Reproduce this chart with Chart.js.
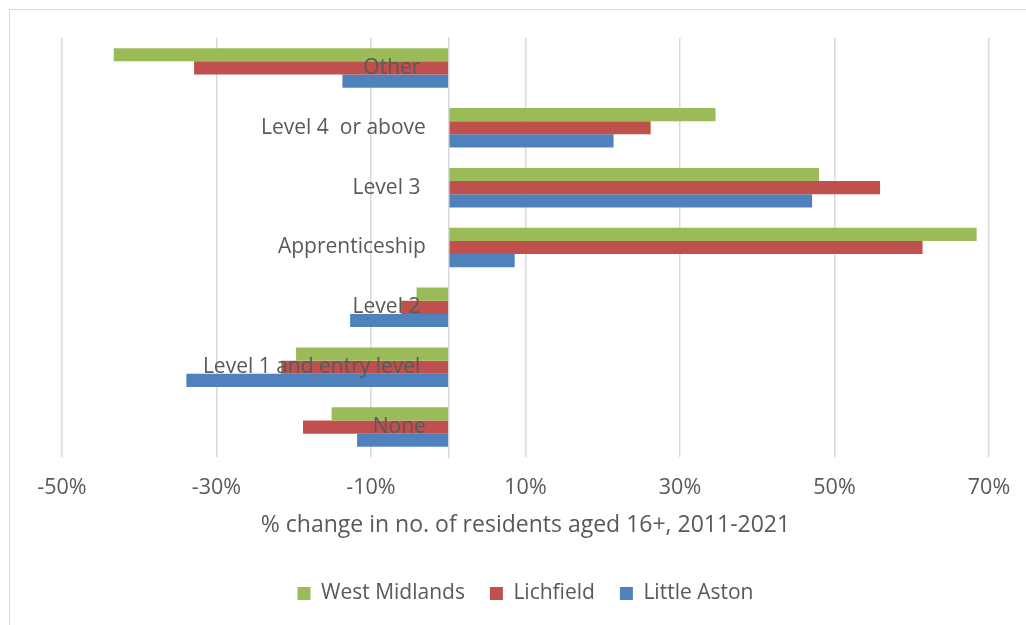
<!DOCTYPE html>
<html>
<head>
<meta charset="utf-8">
<script src="https://cdn.jsdelivr.net/npm/chart.js@4"></script>
<style>
  body { margin: 0; background: #fff; overflow: hidden; }
  #frame { position: absolute; left: 9px; top: 9px; width: 1100px; height: 700px; border: 1.5px solid #d9d9d9; }
  #wrap { position: absolute; left: 0; top: 0; width: 1026px; height: 625px; }
</style>
</head>
<body>
<div id="frame"></div>
<div id="wrap"><canvas id="barChartLoc" width="1026" height="625"></canvas></div>
<script>
// categories, top to bottom
var categories = ["Other ", "Level 4  or above", "Level 3 ", "Apprenticeship", "Level 2 ", "Level 1 and entry level ", "None"];

// % change in no. of residents aged 16+, 2011-2021
var westMidlands = [-43.3, 34.6, 48.0, 68.4, -4.1, -19.7, -15.1];
var lichfield    = [-32.9, 26.2, 55.9, 61.4, -6.1, -21.6, -18.8];
var littleAston  = [-13.7, 21.4, 47.1, 8.6, -12.7, -33.9, -11.8];

var seriesNames = ["West Midlands", "Lichfield", "Little Aston"];
var xTicks = [-50, -30, -10, 10, 30, 50, 70];

document.addEventListener("DOMContentLoaded", function () {
    var textColor = "#595959";
    var gridColor = "#d9d9d9";
    var fontFamily = "'Open Sans'";
    var barColors = ["#9bbb59", "#c0504d", "#4f81bd"];

    var canvas = document.getElementById("barChartLoc");
    var ctx = canvas.getContext("2d");

    canvas.chart = new Chart(ctx, {
        type: "bar",
        data: {
            labels: categories,
            datasets: [
                { label: seriesNames[0], backgroundColor: barColors[0], data: westMidlands },
                { label: seriesNames[1], backgroundColor: barColors[1], data: lichfield },
                { label: seriesNames[2], backgroundColor: barColors[2], data: littleAston },
            ],
        },
        options: {
            indexAxis: "y",
            responsive: false,
            animation: false,
            devicePixelRatio: 1,
            layout: {
                padding: { left: 62, right: 37, top: 38, bottom: 11 },
            },
            datasets: {
                bar: { categoryPercentage: 0.66, barPercentage: 1.0 },
            },
            scales: {
                x: {
                    type: "linear",
                    position: "bottom",
                    min: -50,
                    max: 70,
                    afterBuildTicks: function (axis) {
                        axis.ticks = xTicks.map(function (v) { return { value: v }; });
                    },
                    afterFit: function (axis) {
                        axis.height = 101;
                    },
                    grid: {
                        color: gridColor,
                        lineWidth: 1.5,
                        drawTicks: false,
                    },
                    border: { display: false },
                    ticks: {
                        color: textColor,
                        // tall line box pushes the labels down without widening the side margins
                        font: { family: fontFamily, size: 21.5, lineHeight: "58px" },
                        padding: 2,
                        callback: function (v) { return v + "%"; },
                    },
                    title: {
                        display: true,
                        text: "% change in no. of residents aged 16+, 2011-2021",
                        color: textColor,
                        font: { family: fontFamily, size: 23 },
                        padding: { top: 0, bottom: 19 },
                    },
                },
                // category labels, right-aligned just left of the zero line
                y: {
                    type: "category",
                    position: { x: -2.9 },
                    grid: { display: false, drawTicks: false },
                    border: { display: false },
                    ticks: {
                        z: 1,
                        color: textColor,
                        font: { family: fontFamily, size: 21 },
                    },
                },
                // the vertical axis line at 0%
                yZero: {
                    type: "category",
                    axis: "y",
                    position: { x: 0 },
                    grid: { display: false, drawTicks: false },
                    border: { display: true, color: gridColor, width: 1.5, z: 1 },
                    ticks: { display: false },
                },
            },
            plugins: {
                legend: {
                    display: true,
                    position: "bottom",
                    labels: {
                        color: textColor,
                        font: { family: fontFamily, size: 21 },
                        boxWidth: 13,
                        boxHeight: 13,
                        padding: 25,
                    },
                },
                title: { display: false },
                tooltip: { enabled: false },
            },
        },
    });
});
</script>
</body>
</html>
